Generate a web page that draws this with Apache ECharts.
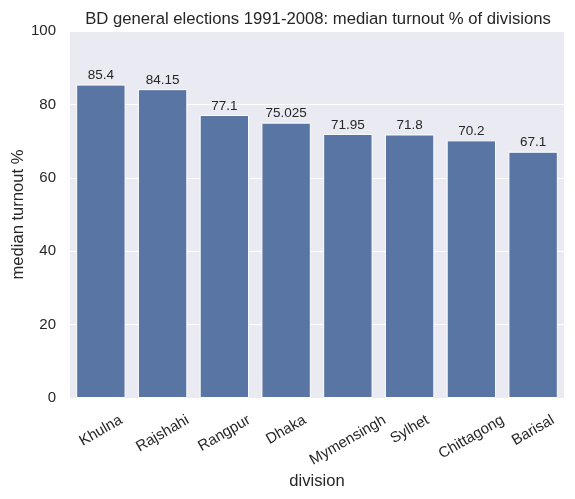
<!DOCTYPE html>
<html>
<head>
<meta charset="utf-8">
<script src="https://cdn.jsdelivr.net/npm/echarts@6/dist/echarts.min.js"></script>
<style>
  html, body { margin: 0; padding: 0; background: #fff; }
  #chart { width: 575px; height: 499px; }
</style>
</head>
<body>
<div id="chart"></div>
<script>
var divisions = ["Khulna", "Rajshahi", "Rangpur", "Dhaka", "Mymensingh", "Sylhet", "Chittagong", "Barisal"];
var turnout = [85.4, 84.15, 77.1, 75.025, 71.95, 71.8, 70.2, 67.1];
var yTicks = [0, 20, 40, 60, 80, 100];

var font = "Liberation Sans, Arial, sans-serif";
var ink = "#262626";
var tickSize = 15;

// matplotlib keeps the top of each rotated label box fixed, so longer names sit lower.
// Push each label down by a quarter of its width via rich-text padding.
var ctx = document.createElement("canvas").getContext("2d");
ctx.font = tickSize + "px " + font;
var labelRich = {};
divisions.forEach(function (d, i) {
    var dy = ctx.measureText(d).width / 4;
    labelRich["d" + i] = { padding: [dy * 1.732, dy, 0, 0] };
});

var chart = echarts.init(document.getElementById("chart"));

chart.setOption({
    animation: false,
    backgroundColor: "#fff",
    title: {
        text: "BD general elections 1991-2008: median turnout % of divisions",
        left: 313,
        top: 6,
        textAlign: "center",
        textStyle: { fontFamily: font, fontSize: 16.7, fontWeight: "normal", color: ink }
    },
    grid: {
        left: 70,
        right: 11,
        top: 31,
        bottom: 101,
        outerBoundsMode: "none",
        show: true,
        backgroundColor: "#eaeaf2",
        borderWidth: 0
    },
    xAxis: {
        type: "category",
        data: divisions,
        name: "division",
        nameLocation: "middle",
        nameGap: 75,
        nameMoveOverlap: false,
        nameTextStyle: { fontFamily: font, fontSize: 16.6, color: ink },
        axisLine: { show: false },
        axisTick: { show: false },
        axisLabel: {
            rotate: 30,
            align: "center",
            verticalAlign: "middle",
            margin: 21,
            fontFamily: font,
            fontSize: tickSize,
            color: ink,
            formatter: function (v, i) { return "{d" + i + "|" + v + "}"; },
            rich: labelRich
        }
    },
    yAxis: {
        type: "value",
        min: yTicks[0],
        max: yTicks[yTicks.length - 1],
        interval: yTicks[1] - yTicks[0],
        name: "median turnout %",
        nameLocation: "middle",
        nameGap: 43,
        nameMoveOverlap: false,
        nameTextStyle: { fontFamily: font, fontSize: 16.6, color: ink },
        axisLine: { show: false },
        axisTick: { show: false },
        axisLabel: { margin: 14, fontFamily: font, fontSize: tickSize, color: ink },
        splitLine: { lineStyle: { color: "#ffffff", width: 1 } }
    },
    series: [{
        type: "bar",
        data: turnout,
        barWidth: "80%",
        itemStyle: { color: "#5975a4", borderColor: "#ffffff", borderWidth: 1 },
        label: {
            show: true,
            position: "top",
            distance: 2,
            fontFamily: font,
            fontSize: 13.5,
            color: ink
        }
    }]
});
</script>
</body>
</html>
